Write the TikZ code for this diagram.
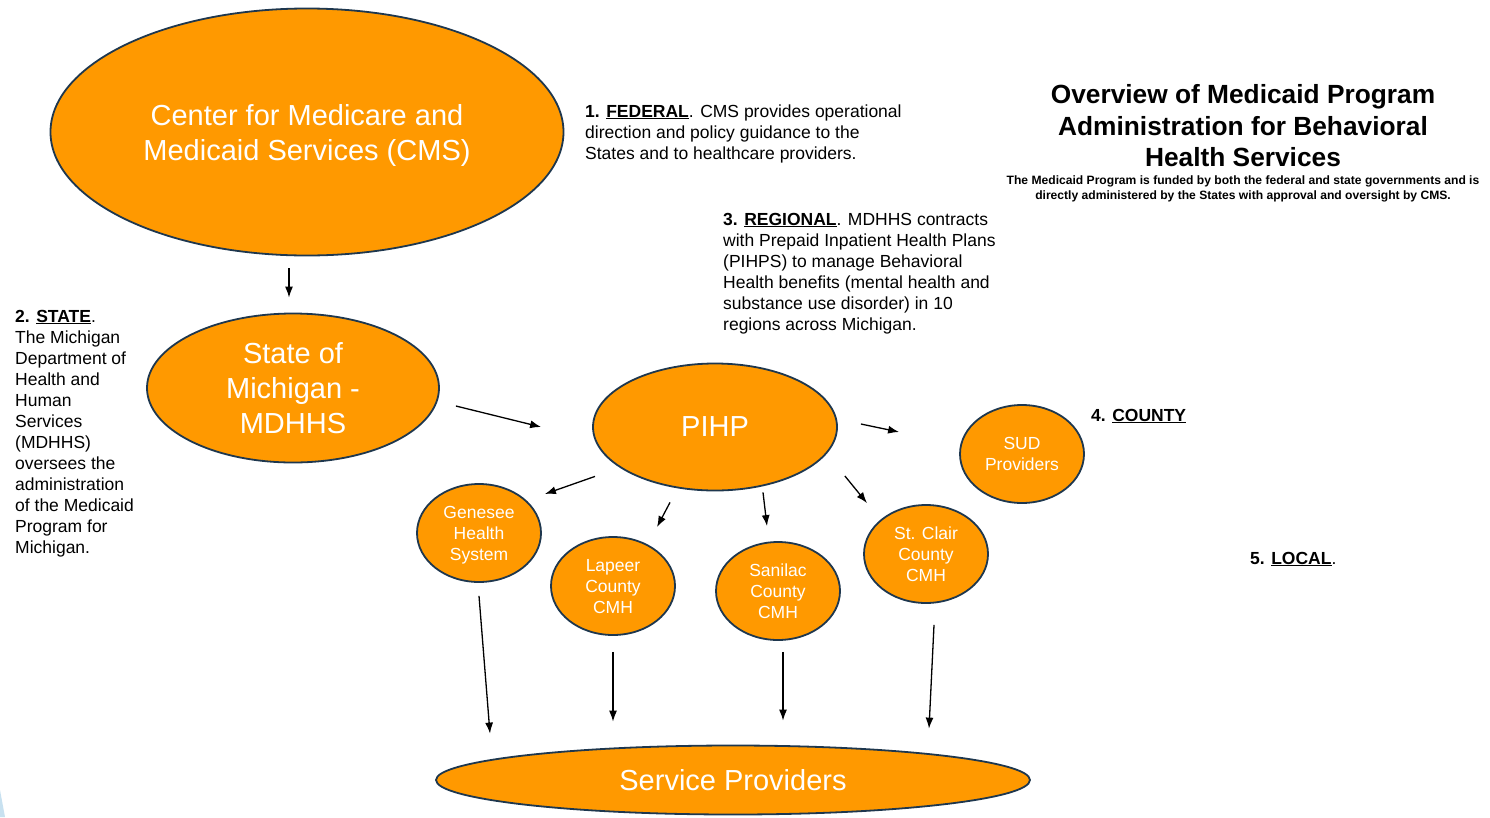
\documentclass[tikz,border=0pt]{standalone}
\usepackage{fontspec}
\setmainfont{Liberation Sans}
\usetikzlibrary{shapes.geometric,arrows.meta}
\definecolor{medorange}{RGB}{255,153,0}
\definecolor{rimblue}{RGB}{30,55,78}
\definecolor{paleblue}{RGB}{200,225,240}
\tikzset{
  agency/.style={ellipse, draw=rimblue, line width=1.8pt, fill=medorange, text=white, inner sep=0pt, align=center},
  bigtext/.style={font=\fontsize{29}{35}\selectfont},
  smalltext/.style={font=\fontsize{17.5}{21}\selectfont},
  smallagency/.style={agency, smalltext, minimum width=124pt, minimum height=98pt},
  note/.style={anchor=base west, inner sep=0pt, align=left, font=\fontsize{17.5}{21}\selectfont},
  flow/.style={-{Latex[length=11pt,width=8pt]}, line width=1.3pt},
}

\begin{document}
\begin{tikzpicture}[x=1pt,y=-1pt]
        \fill[white] (0,0) rectangle (1490,817);
        \useasboundingbox (0,0) rectangle (1490,817);
        \fill[paleblue] (0,790) -- (5,817) -- (0,817) -- cycle;
        % agencies
        \node[agency, bigtext, minimum width=513pt, minimum height=247pt, text depth=-2pt] (cms) at (307,132) {Center for Medicare and\\Medicaid Services (CMS)};
        \node[agency, bigtext, minimum width=292pt, minimum height=149pt] (state) at (293,388) {State of\\Michigan -\\MDHHS};
        \node[agency, bigtext, minimum width=244pt, minimum height=127pt] (pihp) at (715,427) {PIHP};
        \node[smallagency] (sud) at (1022,454) {SUD\\Providers};
        \node[smallagency, text depth=-8pt] (genesee) at (479,533) {Genesee\\Health\\System};
        \node[smallagency, text depth=-5pt] (lapeer) at (613,586) {Lapeer\\County\\CMH};
        \node[smallagency, text depth=-3pt] (sanilac) at (778,591) {Sanilac\\County\\CMH};
        \node[smallagency] (stclair) at (926,554) {St. Clair\\County\\CMH};
        \node[agency, bigtext, minimum width=594pt, minimum height=69pt] (providers) at (733,780) {Service Providers};
        % notes (anchored at the last baseline)
        \node[note] (federal) at (585,159) {\textbf{1. \underline{FEDERAL}}. CMS provides operational\\direction and policy guidance to the\\States and to healthcare providers.};
        \node[note] (statenote) at (15,553) {\textbf{2. \underline{STATE}}.\\The Michigan\\Department of\\Health and\\Human\\Services\\(MDHHS)\\oversees the\\administration\\of the Medicaid\\Program for\\Michigan.};
        \node[note] (regional) at (723,330) {\textbf{3. \underline{REGIONAL}}. MDHHS contracts\\with Prepaid Inpatient Health Plans\\(PIHPS) to manage Behavioral\\Health benefits (mental health and\\substance use disorder) in 10\\regions across Michigan.};
        \node[note] (county) at (1091,421) {\textbf{4. \underline{COUNTY}}};
        \node[note] (local) at (1250,564) {\textbf{5. \underline{LOCAL}}.};
        % title
        \node[align=center, inner sep=0pt, font=\bfseries\fontsize{26.3}{31.5}\selectfont] (title) at (1243,126) {Overview of Medicaid Program\\Administration for Behavioral\\Health Services};
        \node[align=center, inner sep=0pt, font=\bfseries\fontsize{12.1}{15}\selectfont] (subtitle) at (1243,189) {The Medicaid Program is funded by both the federal and state governments and is\\directly administered by the States with approval and oversight by CMS.};
        % arrows
        \draw[flow] ([shift={(-18,12)}]cms.south) -- ([shift={(-4,-15)}]state.north);
        \draw[flow] ([shift={(16,18)}]state.east) -- ([shift={(-51,0)}]pihp.west);
        \draw[flow] ([shift={(23,-3)}]pihp.east) -- ([shift={(-60,-22)}]sud.west);
        \draw[flow] ([shift={(-120,-15)}]pihp.south) -- ([shift={(3,-39)}]genesee.east);
        \draw[flow] ([shift={(-45,11)}]pihp.south) -- ([shift={(44,-9)}]lapeer.north);
        \draw[flow] ([shift={(48,1)}]pihp.south) -- ([shift={(-11,-15)}]sanilac.north);
        \draw[flow] ([shift={(7,49)}]pihp.east) -- ([shift={(-59,-1)}]stclair.north);
        \draw[flow] ([shift={(0,13)}]genesee.south) -- ([shift={(-243,-11)}]providers.north);
        \draw[flow] ([shift={(0,16)}]lapeer.south) -- ([shift={(-120,-23)}]providers.north);
        \draw[flow] ([shift={(5,11)}]sanilac.south) -- ([shift={(50,-24)}]providers.north);
        \draw[flow] ([shift={(8,21)}]stclair.south) -- ([shift={(196,-16)}]providers.north);
    \end{tikzpicture}
\end{document}
